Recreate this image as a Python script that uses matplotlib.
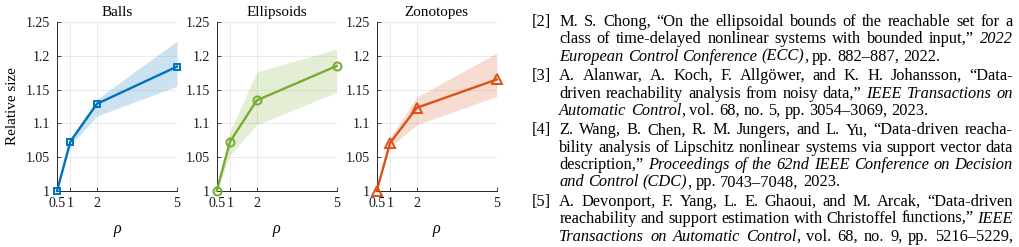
import matplotlib
matplotlib.use('Agg')
import matplotlib.pyplot as plt

plt.rcParams['font.family'] = ['Liberation Serif', 'DejaVu Serif']

# ---------------- data ----------------
rho = [0.5, 1, 2, 5]
xtick_labels = ['0.5', '1', '2', '5']
yticks = [1, 1.05, 1.1, 1.15, 1.2, 1.25]
ytick_labels = ['1', '1.05', '1.1', '1.15', '1.2', '1.25']
titles = ['Balls', 'Ellipsoids', 'Zonotopes']

balls_mean = [1.0, 1.073, 1.129, 1.184]
balls_lo = [1.0, 1.067, 1.111, 1.155]
balls_hi = [1.0, 1.079, 1.136, 1.222]

ell_mean = [1.0, 1.073, 1.134, 1.185]
ell_lo = [1.0, 1.053, 1.098, 1.146]
ell_hi = [1.0, 1.088, 1.176, 1.210]

zon_mean = [1.0, 1.071, 1.123, 1.165]
zon_lo = [1.0, 1.065, 1.098, 1.140]
zon_hi = [1.0, 1.079, 1.139, 1.204]

ref_labels = ['[2]', '[3]', '[4]', '[5]']
ref_lines = [
    [
        [('M. S. Chong, “On the ellipsoidal bounds of the reachable set for a', False)],
        [('class of time-delayed nonlinear systems with bounded input,” ', False), ('2022', True)],
        [('European Control Conference (ECC)', True), (', pp. 882–887, 2022.', False)],
    ],
    [
        [('A. Alanwar, A. Koch, F. Allgöwer, and K. H. Johansson, “Data-', False)],
        [('driven reachability analysis from noisy data,” ', False), ('IEEE Transactions on', True)],
        [('Automatic Control', True), (', vol. 68, no. 5, pp. 3054–3069, 2023.', False)],
    ],
    [
        [('Z. Wang, B. Chen, R. M. Jungers, and L. Yu, “Data-driven reacha-', False)],
        [('bility analysis of Lipschitz nonlinear systems via support vector data', False)],
        [('description,” ', False), ('Proceedings of the 62nd IEEE Conference on Decision', True)],
        [('and Control (CDC)', True), (', pp. 7043–7048, 2023.', False)],
    ],
    [
        [('A. Devonport, F. Yang, L. E. Ghaoui, and M. Arcak, “Data-driven', False)],
        [('reachability and support estimation with Christoffel functions,” ', False), ('IEEE', True)],
        [('Transactions on Automatic Control', True), (', vol. 68, no. 9, pp. 5216–5229,', False)],
    ],
]
ref_justify = [
    [True, True, False],
    [True, True, False],
    [True, True, True, False],
    [True, True, True],
]

# ---------------- figure ----------------
W, H = 1020, 247
fig = plt.figure(figsize=(W / 100, H / 100), dpi=100)

series = [
    (balls_mean, balls_lo, balls_hi, '#0072BD', 's', 5.0),
    (ell_mean, ell_lo, ell_hi, '#77AC30', 'o', 5.8),
    (zon_mean, zon_lo, zon_hi, '#D95319', '^', 7.0),
]
lefts = [57, 216.7, 376.7]
ax_w = 120
ax_bottom = 56
ax_h = 169
axc = '#262626'

for i, (mean, lo, hi, c, m, ms) in enumerate(series):
    ax = fig.add_axes([lefts[i] / W, ax_bottom / H, ax_w / W, ax_h / H])
    ax.fill_between(rho, lo, hi, color=c, alpha=0.2, lw=0)
    ax.plot(rho, mean, color=c, lw=1.7, marker=m, ms=ms, mfc='none', mew=1.4,
            clip_on=False, zorder=3)
    ax.set_xlim(0.5, 5)
    ax.set_ylim(1, 1.25)
    ax.set_xticks(rho, xtick_labels)
    ax.set_yticks(yticks, ytick_labels)
    ax.grid(True, color='#e6e6e6', lw=0.6)
    ax.set_axisbelow(True)
    for s in ['top', 'right']:
        ax.spines[s].set_visible(False)
    for s in ['left', 'bottom']:
        ax.spines[s].set_color(axc)
        ax.spines[s].set_linewidth(0.7)
    ax.tick_params(direction='in', length=3, width=0.6, color=axc,
                   labelsize=10, labelcolor='#1a1a1a')
    ax.tick_params(axis='x', pad=4)
    ax.tick_params(axis='y', pad=5)
    ax.set_title(titles[i], fontsize=10.9, pad=4)
    ax.set_xlabel('ρ', fontsize=11.5, style='italic', labelpad=8.5)
    if i == 0:
        ax.set_ylabel('Relative size', fontsize=10.9, labelpad=5)

# ---------------- references (justified text) ----------------
renderer = fig.canvas.get_renderer()


def text_width(s, italic, size):
    t = fig.text(0, 0, s, fontsize=size, style='italic' if italic else 'normal')
    w = t.get_window_extent(renderer).width
    t.remove()
    return w


# calibrate font size to the known width of one line
calib = [('European Control Conference (ECC)', True), (', pp. 882–887, 2022.', False)]
w10 = sum(text_width(s, it, 10) for s, it in calib)
fs = 10 * 378.0 / w10

space_w = text_width('n n', False, fs) - text_width('nn', False, fs)


def split_words(runs):
    words, cur = [], []
    for txt, it in runs:
        parts = txt.split(' ')
        for k, p in enumerate(parts):
            if k > 0 and cur:
                words.append(cur)
                cur = []
            if p:
                cur.append((p, it))
    if cur:
        words.append(cur)
    return words


x_label = 531.7
x0, x1 = 559.3, 1012.7
y = 26.0
line_skip = 17.4
ref_gap = 1.9

for r, lines in enumerate(ref_lines):
    fig.text(x_label / W, 1 - y / H, ref_labels[r], fontsize=fs, va='baseline')
    for li, runs in enumerate(lines):
        words = split_words(runs)
        widths = [[text_width(p, it, fs) for p, it in wd] for wd in words]
        total = sum(sum(ws) for ws in widths)
        if ref_justify[r][li] and len(words) > 1:
            gap = (x1 - x0 - total) / (len(words) - 1)
        else:
            gap = space_w
        x = x0
        for wd, ws in zip(words, widths):
            for (p, it), pw in zip(wd, ws):
                fig.text(x / W, 1 - y / H, p, fontsize=fs, va='baseline',
                         style='italic' if it else 'normal')
                x += pw
            x += gap
        y += line_skip
    y += ref_gap

fig.savefig('out.png', dpi=100)
